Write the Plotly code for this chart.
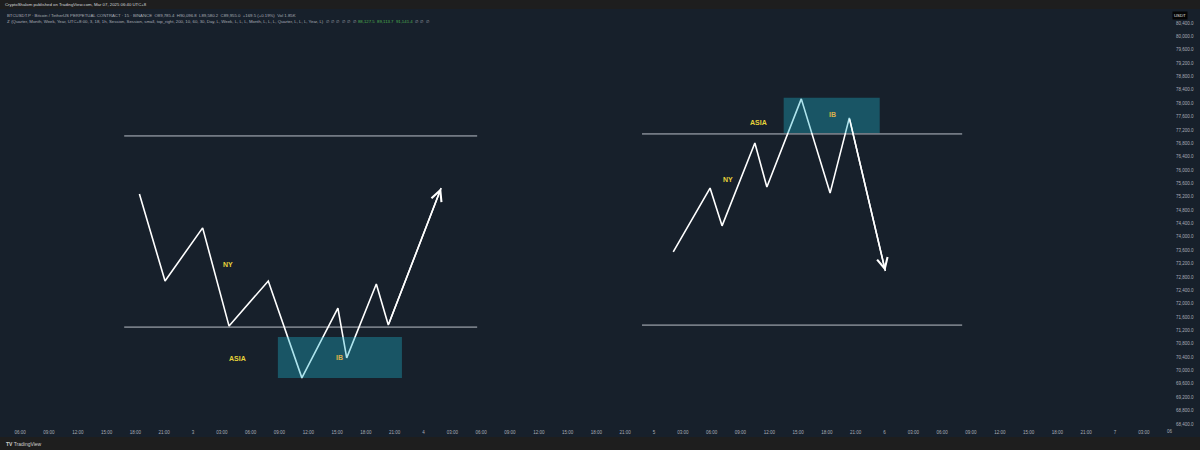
import plotly.graph_objects as go
import pandas as pd

# ---------------- data ----------------
left_wave_time = ["2025-03-02 18:25", "2025-03-02 21:05", "2025-03-03 01:00", "2025-03-03 03:45",
                  "2025-03-03 07:50", "2025-03-03 11:20", "2025-03-03 15:05", "2025-03-03 16:00",
                  "2025-03-03 19:05", "2025-03-03 20:20", "2025-03-04 01:50"]
left_wave_price = [75280, 72680, 74270, 71330, 72680, 69780, 71870, 70380, 72590, 71360, 75460]

right_wave_time = ["2025-03-05 02:00", "2025-03-05 05:50", "2025-03-05 07:05", "2025-03-05 10:30",
                   "2025-03-05 11:45", "2025-03-05 15:20", "2025-03-05 18:20", "2025-03-05 20:20",
                   "2025-03-06 00:05"]
right_wave_price = [73550, 75460, 74330, 76810, 75490, 78130, 75310, 77560, 72980]

left_levels = [77020, 71300]
left_level_span = ["2025-03-02 16:50", "2025-03-04 05:35"]
right_levels = [77080, 71360]
right_level_span = ["2025-03-04 22:45", "2025-03-06 08:05"]

ib_boxes = [  # (t0, t1, p0, p1)
    ("2025-03-03 08:50", "2025-03-03 21:45", 69780, 71000),
    ("2025-03-05 13:30", "2025-03-05 23:30", 77110, 78160),
]

labels = [  # (time, price, text, color)
    ("2025-03-03 03:38", 73160, "NY", "#e6d33a"),
    ("2025-03-03 04:35", 70375, "ASIA", "#e6d33a"),
    ("2025-03-03 15:18", 70405, "IB", "#d8b04c"),
    ("2025-03-05 10:50", 77410, "ASIA", "#e6d33a"),
    ("2025-03-05 07:42", 75730, "NY", "#e6d33a"),
    ("2025-03-05 18:32", 77650, "IB", "#d8b04c"),
]

x_range = ["2025-03-02 03:54", "2025-03-07 05:31"]
y_range = [68340, 80819]
price_ticks = list(range(68400, 80401, 400))

tick_times = pd.date_range("2025-03-02 06:00", "2025-03-07 03:00", freq="3h")
tick_labels = [str(t.day) if t.hour == 0 else t.strftime("%H:%M") for t in tick_times]

header1 = "CryptoShalom published on TradingView.com, Mar 07, 2025 06:40 UTC+8"
header2 = ("BTCUSDT.P · Bitcoin / TetherUS PERPETUAL CONTRACT · 15 · BINANCE  O89,785.4  H90,096.8  "
           "L89,580.2  C89,955.0  +169.5 (+0.19%)  Vol 1.85K")
header3_a = ("ℤ (Quarter, Month, Week, Year, UTC+8:00, 3, 18, 1h, Session, Session, small, top_right, 200, 10, "
             "60, 30, Day, L, Week, L, L, L, Month, L, L, L, Quarter, L, L, L, Year, L)  ∅  ∅  ∅  ∅  ∅  ∅  ")
header3_green = "88,127.5  89,113.7  91,141.4"
header3_b = "  ∅  ∅  ∅"

# ---------------- style ----------------
BG = "#17202b"
BAR = "#1e1e1e"
TXT = "#a9adb6"
FONT = "Liberation Sans, Arial, sans-serif"
W, H = 1200, 450
ML, MR, MT, MB = 0, 32, 9, 24
PW, PH = W - ML - MR, H - MT - MB


def px_x(px):
    return (px - ML) / PW


def px_y(py):
    return (H - MB - py) / PH


fig = go.Figure()

for lv in left_levels:
    fig.add_trace(go.Scatter(x=left_level_span, y=[lv, lv], mode="lines",
                             line=dict(color="rgba(215,220,228,0.85)", width=1), hoverinfo="skip"))
for lv in right_levels:
    fig.add_trace(go.Scatter(x=right_level_span, y=[lv, lv], mode="lines",
                             line=dict(color="rgba(215,220,228,0.85)", width=1), hoverinfo="skip"))

for tx, py in [(left_wave_time, left_wave_price), (right_wave_time, right_wave_price)]:
    fig.add_trace(go.Scatter(x=tx, y=py, mode="lines",
                             line=dict(color="#ffffff", width=1.6), hoverinfo="skip"))
    fig.add_annotation(x=tx[-1], y=py[-1], ax=tx[-2], ay=py[-2], xref="x", yref="y",
                       axref="x", ayref="y", text="", showarrow=True, arrowhead=5,
                       arrowsize=1.4, arrowwidth=1.5, arrowcolor="#ffffff", standoff=0)

for t0, t1, p0, p1 in ib_boxes:
    fig.add_shape(type="rect", xref="x", yref="y", x0=t0, x1=t1, y0=p0, y1=p1,
                  fillcolor="rgba(30,180,205,0.36)", line=dict(width=0), layer="above")

for t, p, s, c in labels:
    fig.add_annotation(x=t, y=p, xref="x", yref="y", text="<b>%s</b>" % s, showarrow=False,
                       font=dict(family=FONT, size=7, color=c))

# top & bottom bars
fig.add_shape(type="rect", xref="paper", yref="paper", x0=-0.01, x1=px_x(W) + 0.01,
              y0=px_y(9), y1=px_y(-2), fillcolor=BAR, line=dict(width=0), layer="above")
fig.add_shape(type="rect", xref="paper", yref="paper", x0=-0.01, x1=px_x(W) + 0.01,
              y0=px_y(437), y1=px_y(452), fillcolor=BAR, line=dict(width=0), layer="above")

# header texts
fig.add_annotation(x=px_x(3), y=px_y(4.5), xref="paper", yref="paper", xanchor="left", yanchor="middle",
                   text=header1, showarrow=False, font=dict(family=FONT, size=4.3, color="#d4d6da"))
fig.add_annotation(x=px_x(5), y=px_y(15), xref="paper", yref="paper", xanchor="left", yanchor="middle",
                   text=header2, showarrow=False, font=dict(family=FONT, size=4.3, color=TXT))
fig.add_annotation(x=px_x(5), y=px_y(21.5), xref="paper", yref="paper", xanchor="left", yanchor="middle",
                   text=header3_a + '<span style="color:#4caf50">' + header3_green + "</span>" + header3_b,
                   showarrow=False, font=dict(family=FONT, size=4.3, color=TXT))

# USDT badge
fig.add_annotation(x=px_x(1180), y=px_y(15.5), xref="paper", yref="paper", xanchor="center",
                   yanchor="middle", text="USDT", showarrow=False, bgcolor="#050505",
                   borderpad=1, font=dict(family=FONT, size=4.3, color="#e0e0e0"))
# clipped time label under price scale
fig.add_annotation(x=px_x(1170), y=px_y(432), xref="paper", yref="paper", xanchor="center",
                   yanchor="middle", text="06", showarrow=False,
                   font=dict(family=FONT, size=4.5, color=TXT))
# TradingView logo text
fig.add_annotation(x=px_x(4), y=px_y(443.5), xref="paper", yref="paper", xanchor="left",
                   yanchor="middle", text="<b>TV</b> TradingView", showarrow=False,
                   font=dict(family=FONT, size=5, color="#d0d0d0"))

fig.update_layout(
    width=W, height=H, margin=dict(l=ML, r=MR, t=MT, b=MB),
    paper_bgcolor=BG, plot_bgcolor=BG, showlegend=False,
    font=dict(family=FONT, size=4.5, color=TXT),
    xaxis=dict(type="date", range=x_range, showgrid=False, zeroline=False, showline=False,
               tickmode="array", tickvals=list(tick_times), ticktext=tick_labels,
               ticks="", tickfont=dict(size=4.5, color=TXT), ticklabelstandoff=2, fixedrange=True),
    yaxis=dict(side="right", range=y_range, showgrid=False, zeroline=False, showline=False,
               tickmode="array", tickvals=price_ticks, tickformat=",.1f", ticks="",
               tickfont=dict(size=4.5, color=TXT), ticklabelstandoff=7, fixedrange=True),
)

fig.write_html("out.html", config={"displayModeBar": False},
               post_script="document.body.style.margin='0';document.body.style.overflow='hidden';"
                           "document.documentElement.style.overflow='hidden';"
                           "document.body.style.background='%s';" % BG)
